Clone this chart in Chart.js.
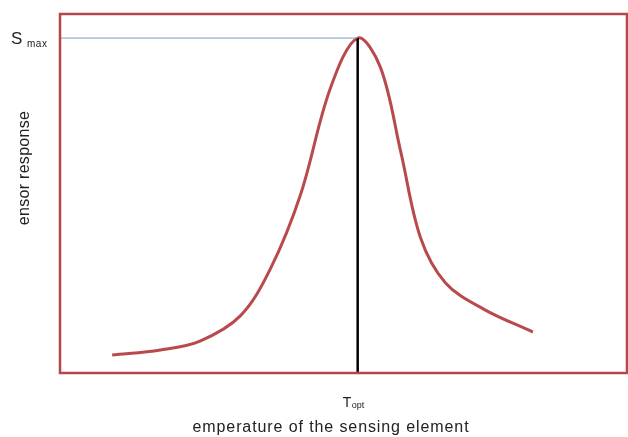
<!DOCTYPE html>
<html>
<head>
<meta charset="utf-8">
<script src="https://cdn.jsdelivr.net/npm/chart.js@4/dist/chart.umd.min.js"></script>
<style>
  html, body { margin: 0; padding: 0; background: #fff; }
  #wrap { width: 628px; height: 437px; position: relative; }
</style>
</head>
<body>
<div id="wrap"><canvas id="c"></canvas></div>
<script>
// curve (x: temperature, y: response, both 0..100)
const temperature = [9.2, 17.7, 24.7, 31.8, 37.1, 42.4, 47.7, 52.5, 56.5, 60.1, 63.6, 68.0, 74.7, 83.4]
const response    = [5.0, 6.4, 8.9, 15.9, 29.0, 49.6, 79.4, 93.3, 85.2, 61.6, 37.6, 25.1, 17.8, 11.4]

const tOpt = 52.5
const sMax = 93.3

const xTitle = "emperature of the sensing element"
const yTitle = "ensor response"
const sLabel = ["S", "max"]
const tLabel = ["T", "opt"]

const red = "#b84a4e"
const font = "'Liberation Sans', Arial, sans-serif"

const curvePoints = temperature.map((t, i) => ({x: t, y: response[i]}))

const annotate = {
  id: "annotate",
  afterDraw(chart) {
    const {ctx, chartArea: a, scales: {x, y}} = chart
    ctx.save()
    // frame
    ctx.strokeStyle = "#b5474b"
    ctx.lineWidth = 2.5
    ctx.strokeRect(a.left, a.top, a.right - a.left, a.bottom - a.top)

    ctx.fillStyle = "#222"
    ctx.textBaseline = "alphabetic"
    ctx.textAlign = "left"
    // S max
    const sy = y.getPixelForValue(sMax)
    ctx.font = "17px " + font
    ctx.fillText(sLabel[0], 11, sy + 6)
    ctx.font = "10px " + font
    ctx.letterSpacing = "0.5px"
    ctx.fillText(sLabel[1], 27, sy + 9)
    ctx.letterSpacing = "0px"

    // T opt
    const tx = x.getPixelForValue(tOpt)
    ctx.font = "14px " + font
    ctx.fillText(tLabel[0], tx - 15, a.bottom + 34)
    ctx.font = "9px " + font
    ctx.fillText(tLabel[1], tx - 6, a.bottom + 35)

    // axis titles
    ctx.font = "16px " + font
    ctx.textAlign = "center"
    ctx.letterSpacing = "0.9px"
    ctx.fillText(xTitle, 331, 432)
    ctx.letterSpacing = "0.3px"
    ctx.translate(29, 168)
    ctx.rotate(-Math.PI / 2)
    ctx.fillText(yTitle, 0, 0)
    ctx.restore()
  }
}

new Chart(document.getElementById("c"), {
  type: "scatter",
  data: {
    datasets: [
      {
        data: [{x: 0, y: sMax}, {x: tOpt, y: sMax}],
        showLine: true,
        borderColor: "#7f9cc0",
        borderWidth: 1,
        pointRadius: 0
      },
      {
        data: [{x: tOpt, y: 0}, {x: tOpt, y: sMax}],
        showLine: true,
        borderColor: "#000",
        borderWidth: 2.5,
        pointRadius: 0
      },
      {
        data: curvePoints,
        showLine: true,
        borderColor: red,
        borderWidth: 3,
        tension: 0.35,
        pointRadius: 0
      }
    ]
  },
  options: {
    responsive: true,
    maintainAspectRatio: false,
    animation: false,
    layout: {padding: {left: 60, top: 14, right: 1, bottom: 64}},
    plugins: {legend: {display: false}, tooltip: {enabled: false}},
    scales: {
      x: {type: "linear", min: 0, max: 100, display: false},
      y: {type: "linear", min: 0, max: 100, display: false}
    }
  },
  plugins: [annotate]
})
</script>
</body>
</html>
